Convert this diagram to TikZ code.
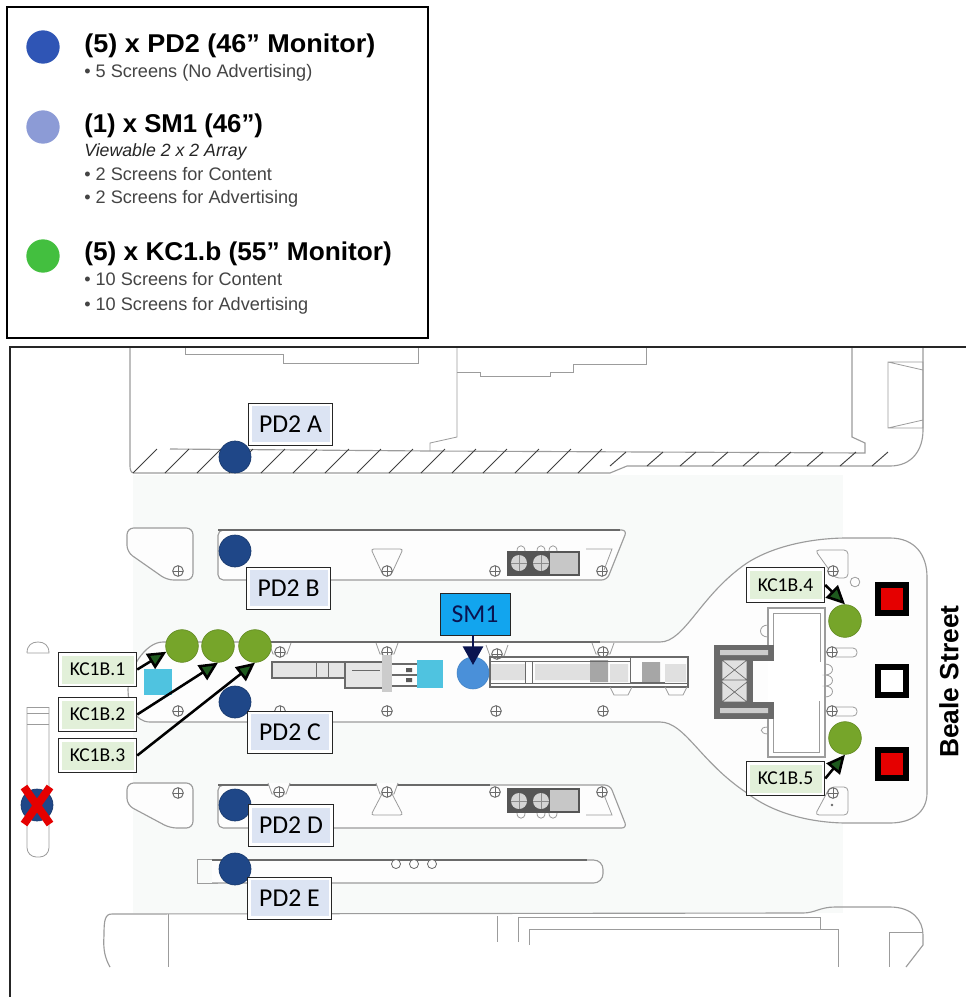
\documentclass[tikz,border=0pt]{standalone}
\usepackage{fontspec}
\setmainfont{Liberation Sans}
\newfontfamily\carl{Carlito}
\usetikzlibrary{arrows.meta}
\definecolor{plan}{HTML}{9C9C9C}
\definecolor{plandark}{HTML}{6A6A6A}
\definecolor{ground}{HTML}{F8FAF9}
\definecolor{island}{HTML}{FDFDFD}
\definecolor{pdblue}{HTML}{1F4788}
\definecolor{kcgreen}{HTML}{76A52A}
\definecolor{smblue}{HTML}{4A90D9}
\definecolor{cyansq}{HTML}{4FC3E0}
\definecolor{labelblue}{HTML}{DCE4F3}
\definecolor{labelgreen}{HTML}{E2F0D9}
\definecolor{smbox}{HTML}{12A5EE}
\definecolor{arrowgreen}{HTML}{1E5A1E}
\definecolor{navy}{HTML}{0A1450}
\definecolor{legA}{HTML}{2F55B5}
\definecolor{legB}{HTML}{8C9BD6}
\definecolor{legC}{HTML}{43BF3F}
\definecolor{subgrey}{HTML}{444444}
\tikzset{
 planline/.style={draw=plan,line width=0.85pt},
 thinline/.style={draw=plan,line width=0.6pt},
 frameline/.style={draw=black!85,line width=1.2pt},
 pdspot/.style={circle,inner sep=0,minimum size=24pt,fill=pdblue,draw=pdblue!80!black,line width=.5pt},
 kcspot/.style={circle,inner sep=0,minimum size=24.5pt,fill=kcgreen,draw=kcgreen!85!black,line width=.5pt},
 legspot/.style={circle,inner sep=0,minimum size=25pt},
 head/.style={anchor=base west,inner sep=0,font=\fontsize{19.3}{22}\selectfont\bfseries,text=black},
 sub/.style={anchor=base west,inner sep=0,font=\fontsize{13.6}{16}\selectfont,text=subgrey},
 pdlabel/.style={draw=black!85,line width=.6pt,fill=white,inner sep=0,minimum width=63.5pt,minimum height=31.5pt,
   font=\carl\fontsize{19.3}{22}\selectfont,text=black,
   path picture={\fill[labelblue] ([shift={(2.5pt,-2.5pt)}]path picture bounding box.north west) rectangle ([shift={(-2.5pt,2.5pt)}]path picture bounding box.south east);}},
 kclabel/.style={draw=black!85,line width=.6pt,fill=white,inner sep=0,minimum width=59pt,minimum height=26pt,
   font=\carl\fontsize{14.7}{17}\selectfont,text=black,
   path picture={\fill[labelgreen] ([shift={(2.5pt,-2.5pt)}]path picture bounding box.north west) rectangle ([shift={(-2.5pt,2.5pt)}]path picture bounding box.south east);}},
 kcarrow/.style={draw=black,line width=1.9pt,-{Triangle[length=14pt,width=13pt,fill=arrowgreen]}},
 sign/.style={draw=black,line width=4.5pt,minimum size=21pt,inner sep=0},
}
\newcommand\bolt[2]{\draw[plandark,line width=.7pt,fill=island] (#1,#2) circle (4pt);
  \draw[plandark,line width=.4pt] (#1-5,#2)--(#1+5,#2) (#1,#2-5)--(#1,#2+5);}
\newcommand\funnel[2]{\draw[thinline,fill=island] (#1-11,#2-9)--(#1-7,#2+2)--(#1+7,#2+2)--(#1+11,#2-9);\bolt{#1}{#2}}
\newcommand\kioskbox[3]{\begin{scope}[shift={(#1,#2)},yscale=#3]
  \fill[plandark!80!black] (0,0) rectangle (73,25);
  \fill[black!22] (43,2) rectangle (71,23);
  \fill[black!17] (12,12) circle (6pt) (34,12) circle (6pt);
  \draw[black!45,line width=.5pt] (12,4)--(12,20) (4,12)--(20,12) (34,4)--(34,20) (26,12)--(42,12);
  \draw[thinline] (10,0) .. controls (10,-7) and (18,-7) .. (18,0) (30,0) .. controls (30,-7) and (38,-7) .. (38,0) (42,0) .. controls (42,-7) and (50,-7) .. (50,0);
\end{scope}}
\begin{document}
\begin{tikzpicture}[x=0.75pt,y=-0.75pt]
\useasboundingbox (0,0) rectangle (966,997);
\fill[white] (0,0) rectangle (966,997);
% ---------- legend
\draw[black,line width=1.6pt] (7,7) rectangle (428,338);
\node[legspot,fill=legA] (la) at (43,47) {};
\node[legspot,fill=legB] (lb) at (43,127) {};
\node[legspot,fill=legC] (lc) at (43,256) {};
\node[head] (h1) at (84,52) {\scalebox{1.05}[1]{(5) x PD2 (46” Monitor)}};
\node[sub]  (s1) at (84,77) {• 5 Screens (No Advertising)};
\node[head] (h2) at (84,132) {(1) x SM1 (46”)};
\node[sub,font=\fontsize{13.3}{16}\selectfont\itshape,text=black!85] (s2) at (84,156) {Viewable 2 x 2 Array};
\node[sub]  (s3) at (84,180) {• 2 Screens for Content};
\node[sub]  (s4) at (84,203) {• 2 Screens for Advertising};
\node[head] (h3) at (84,260) {\scalebox{1.02}[1]{(5) x KC1.b (55” Monitor)}};
\node[sub]  (s5) at (84,285) {• 10 Screens for Content};
\node[sub]  (s6) at (84,310) {• 10 Screens for Advertising};
% ---------- ground
\fill[ground] (133,475) rectangle (843,913);
% top building
\draw[planline] (130,347)--(130,466) .. controls (130,470) and (131,473) .. (134,473)--(610,473)--(627,466)--(890,466) .. controls (912,466) and (923,450) .. (923,430)--(923,347);
\draw[planline] (170,449)--(430,451)--(865,453)--(865,443)--(852,437)--(852,347);
\draw[thinline] (430,451)--(430,443)--(457,437)--(457,347);
\draw[thinline] (185,347)--(185,354)--(283,354)--(283,363)--(418,363)--(418,347);
\draw[thinline] (457,372)--(480,372)--(480,376)--(550,376)--(550,372)--(573,372)--(573,364)--(646,364)--(646,347);
\draw[thinline] (888,362) rectangle (923,428) (888,362)--(923,370) (888,428)--(923,420);
\foreach \hx in {133,165,197,229,261,293,325,357,389,421,452,483,515,547,578}{\draw[black!75,line width=.7pt] (\hx,473)--(\hx+24,449);}
\foreach \hx in {610,647,680,712,743,775,807,840,872}{\draw[black!75,line width=.7pt] (\hx,466)--(\hx+16,452);}
% island B
\draw[planline,fill=island,rounded corners=5pt] (127,528)--(193,528)--(193,580)--(167,580)--(127,552)--cycle;
\bolt{178}{571}
\draw[planline,fill=island,rounded corners=4pt] (218,530)--(627,530)--(607,580)--(218,580)--cycle;
\draw[plandark,line width=.9pt] (218,530)--(620,530);
\draw[thinline,fill=island,rounded corners=2pt] (371,549)--(403,549)--(391,575)--(383,575)--cycle;
\bolt{387}{571}
\bolt{495}{571}
\bolt{602}{571}
\kioskbox{507}{551}{1}
\draw[thinline] (586,549)--(612,549)--(604,570);
% island D
\draw[planline,fill=island,rounded corners=5pt] (127,783)--(193,783)--(193,828)--(170,828)--(127,805)--cycle;
\bolt{178}{793}
\draw[planline,fill=island,rounded corners=4pt] (218,785)--(610,785)--(627,828)--(218,828)--cycle;
\draw[plandark,line width=.9pt] (218,785)--(490,785);
\draw[thinline,fill=island,rounded corners=2pt] (371,815)--(403,815)--(391,792)--(383,792)--cycle;
\funnel{279}{792}
\funnel{387}{792}
\bolt{495}{792}
\bolt{602}{792}
\kioskbox{507}{813}{-1}
\draw[thinline] (586,815)--(612,815)--(604,795);
% strip E
\draw[thinline] (197,859) rectangle (217,883);
\draw[planline,fill=island,rounded corners=7pt] (212,860)--(603,860)--(603,883)--(212,883);
\draw[plandark,line width=1pt] (212,860)--(587,860);
\foreach \cx in {396,414,432}{\draw[plandark,line width=.6pt,fill=island] (\cx,864) circle (3.4pt);}
% bottom building
\draw[planline] (110,967) .. controls (105,958) and (103,950) .. (104,935) .. controls (104,920) and (105,914) .. (112,914)--(803,913) .. controls (815,913) and (820,907) .. (835,907)--(890,907) .. controls (912,907) and (923,920) .. (923,935)--(923,945)--(906,967);
\draw[thinline] (168,914)--(168,967) (497,916)--(497,942) (518,942)--(518,917)--(820,917)--(820,930);
\draw[thinline] (529,945)--(529,929)--(838,929)--(838,967) (923,932)--(889,932)--(889,967);
% left column
\draw[thinline] (27,653)--(49,653) .. controls (49,645) and (44,642) .. (38,642) .. controls (32,642) and (27,645) .. (27,653);
\draw[thinline,rounded corners=7pt] (27,707)--(27,857)--(49,857)--(49,707);
\draw[thinline] (27,707)--(49,707) (27,713)--(49,713) (27,724)--(49,724);
% central island
\draw[planline,fill=island] (163,642)--(660,642) .. controls (685,642) and (700,595) .. (747,563) .. controls (775,545) and (815,538) .. (847,538)--(890,538) .. controls (915,538) and (927,555) .. (927,577)--(927,793) .. controls (927,812) and (912,823) .. (890,823)--(847,823) .. controls (815,823) and (775,815) .. (747,793) .. controls (700,762) and (685,722) .. (660,722)--(150,722) .. controls (135,722) and (128,705) .. (128,690) .. controls (128,670) and (145,642) .. (163,642)--cycle;
\draw[plandark,line width=.9pt] (270,642)--(600,642);
\foreach \bx in {178,280,387,496,603}{\bolt{\bx}{711}}
\funnel{280}{652}
\funnel{387}{652}
\funnel{497}{654}
\funnel{603}{652}
% strip buildings, left part
\fill[black!10] (272,662) rectangle (345,678) (345,662) rectangle (385,688);
\draw[plandark,line width=1.1pt] (272,662)--(345,662)--(345,678)--(272,678)--cycle (345,662)--(385,662)--(385,688)--(345,688)--cycle;
\draw[plandark,line width=.7pt] (316,663)--(316,677) (328,663)--(328,677) (352,670)--(380,670);
\fill[black!20] (382,655) rectangle (392,692);
\draw[plandark,line width=1.1pt] (392,664)--(417,664) (392,686)--(417,686) (392,675)--(417,675);
\fill[black!65] (406,668) rectangle (412,672) (406,678) rectangle (412,682);
% strip buildings, right part
\fill[black!12] (490,664) rectangle (525,680) (535,664) rectangle (590,680) (610,664) rectangle (628,682) (665,664) rectangle (686,682);
\fill[black!35] (590,660) rectangle (608,682) (642,662) rectangle (660,682);
\draw[plandark,line width=1.1pt] (490,657) rectangle (688,687);
\draw[plandark,line width=.6pt] (490,661)--(630,661) (490,683)--(688,683) (525,661)--(525,683) (532,661)--(532,683) (630,657)--(630,682)--(665,682);
\draw[thinline] (610,687)--(614,695)--(628,695)--(632,687) (665,687)--(669,695)--(683,695)--(687,687);
\fill[cyansq] (144,669) rectangle (172,695);
\fill[cyansq] (417,660) rectangle (443,688);
% pavilion
\draw[planline,fill=white] (768,645)--(768,608)--(825,608)--(825,757)--(768,757)--(768,705);
\draw[thinline] (773,645)--(773,613)--(820,613)--(820,662) (819,701)--(819,752)--(773,752)--(773,705);
\draw[plandark,line width=.8pt,fill=plandark] (715,646)--(773,646)--(773,660)--(752,660)--(752,703)--(773,703)--(773,718)--(715,718)--cycle;
\fill[black!20] (720,650) rectangle (768,655) (720,708) rectangle (768,713);
\fill[black!12] (722,660) rectangle (747,702);
\draw[plandark,line width=.5pt] (722,660)--(747,680)--(722,680)--(747,660) (722,682)--(747,702)--(722,702)--(747,682) (722,660) rectangle (747,702);
\draw[thinline] (768,625) .. controls (758,625) and (758,637) .. (768,637) (768,727) .. controls (758,727) and (760,734) .. (768,734);
\draw[thinline] (825,664) .. controls (835,664) and (835,675) .. (825,675) .. controls (835,675) and (835,686) .. (825,686) .. controls (835,686) and (835,697) .. (825,697);
\draw[thinline,rounded corners=3pt] (832,648) rectangle (857,657) (832,707) rectangle (857,716);
\bolt{832}{652}
\bolt{832}{711}
\draw[thinline,rounded corners=3pt] (815,550)--(848,550)--(848,578)--(835,578)--cycle;
\bolt{833}{571}
\draw[thinline] (855,582) circle (3.6pt);
\draw[thinline,rounded corners=3pt] (848,787)--(848,815)--(815,815)--(830,787)--cycle;
\bolt{833}{793}
\fill[plandark] (832,805) circle (1pt);
% signs
\node[sign,fill=red!90!black] (sa) at (892,598.5) {};
\node[sign,fill=white] (sb) at (892,681) {};
\node[sign,fill=red!90!black] (sc) at (892,764) {};
\node[rotate=90,inner sep=0,font=\fontsize{19.8}{22}\selectfont\bfseries,text=black] (beale) at (949,681.5) {Beale Street};
% ---------- spots
\node[pdspot] (pa) at (235,457) {};
\node[pdspot] (pb) at (235,551) {};
\node[pdspot] (pc) at (235,702) {};
\node[pdspot] (pd) at (235,805) {};
\node[pdspot] (pe) at (235,869) {};
\node[pdspot] (px) at (37,805) {};
\draw[red!90!black,line width=6pt] (24,787)--(50,824) (50,787)--(24,824);
\node[kcspot] (ka) at (182,646) {};
\node[kcspot] (kb) at (218,646) {};
\node[kcspot] (kc) at (255,646) {};
\node[kcspot] (kd) at (845,621) {};
\node[kcspot] (ke) at (845,738) {};
\node[circle,inner sep=0,minimum size=24pt,fill=smblue,draw=smblue!90!black,line width=.4pt] (sm) at (473,673) {};
% ---------- labels
\node[pdlabel] (la1) at (290.5,424) {PD2 A};
\node[pdlabel] (lb1) at (288.5,588) {PD2 B};
\node[pdlabel] (lc1) at (290,732) {PD2 C};
\node[pdlabel] (ld1) at (291,825.5) {PD2 D};
\node[pdlabel] (le1) at (289.5,898) {PD2 E};
\node[kclabel] (k1) at (97.5,669.5) {KC1B.1};
\node[kclabel] (k2) at (97.5,714.5) {KC1B.2};
\node[kclabel] (k3) at (97.5,755.5) {KC1B.3};
\node[kclabel] (k4) at (785.5,585) {KC1B.4};
\node[kclabel] (k5) at (785.5,778.5) {KC1B.5};
\node[draw=black!85,line width=.6pt,fill=smbox,inner sep=0,minimum width=52.5pt,minimum height=31.5pt,font=\carl\fontsize{19.3}{22}\selectfont,text=navy] (smlabel) at (475,614) {SM1};
% ---------- connectors
\draw[kcarrow] (k1.east) -- (ka.-160);
\draw[kcarrow] (k2.east) -- (kb.south);
\draw[kcarrow] (k3.east) -- (kc.south);
\draw[kcarrow] (k4.east) -- (kd.north);
\draw[kcarrow] (k5.east) -- (ke.south);
\draw[draw=navy,line width=2.2pt,shorten >=6pt,-{Triangle[length=14pt,width=15pt,fill=navy]}] (smlabel.south-|sm.center) -- (sm.center);
% frame
\draw[frameline] (966,347)--(10,347)--(10,997);
\end{tikzpicture}
\end{document}
